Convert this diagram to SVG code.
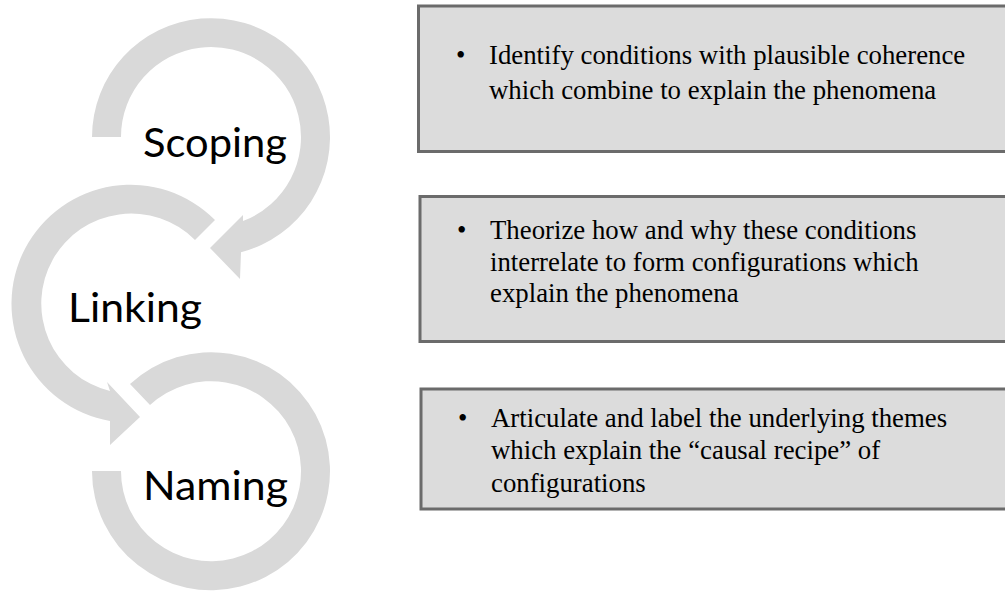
<svg xmlns="http://www.w3.org/2000/svg" width="1005" height="594" viewBox="0 0 1005 594">
<style>
.ring{fill:#d9d9d9;stroke:none}
.lbl{font-family:Lato,"Open Sans","Liberation Sans",sans-serif;font-size:40px;fill:#000}
.box{fill:#dcdcdc;stroke:#6b6b6b;stroke-width:3}
.txt{font-family:"Liberation Serif","Times New Roman",serif;font-size:26.8px;fill:#000}
</style>
<rect width="1005" height="594" fill="#fff"/>
<g id="connectors">
<path id="arrow-scoping" class="ring" d="M92 137 A119 119 0 1 1 241 252.3 L240 279 L210 248 L243 215 L243 221.1 A90 90 0 1 0 121 137 Z"/>
<path id="arrow-linking" class="ring" d="M215 220 A119 119 0 1 0 110 421 L110 445 L140 417 L107 382 L110 391 A90 90 0 1 1 195 240 Z"/>
<path id="arrow-naming" class="ring" d="M130 384 A119 119 0 1 1 92 471 L121 471 A90 90 0 1 0 150 405 Z"/>
</g>
<g id="node-scoping"><text class="lbl" x="143" y="157" textLength="144" lengthAdjust="spacingAndGlyphs">Scoping</text></g>
<g id="node-linking"><text class="lbl" x="68" y="322" textLength="134" lengthAdjust="spacingAndGlyphs">Linking</text></g>
<g id="node-naming"><text class="lbl" x="143" y="500" textLength="145" lengthAdjust="spacingAndGlyphs">Naming</text></g>
<g id="box-1">
<rect class="box" x="418.5" y="6" width="600" height="145.5"/>
<text class="txt" x="456" y="64">•</text>
<text class="txt"><tspan x="489" y="64">Identify conditions with plausible coherence</tspan><tspan x="489" y="99">which combine to explain the phenomena</tspan></text>
</g>
<g id="box-2">
<rect class="box" x="420" y="196.5" width="600" height="145"/>
<text class="txt" x="457" y="239">•</text>
<text class="txt"><tspan x="490" y="239">Theorize how and why these conditions</tspan><tspan x="490" y="271">interrelate to form configurations which</tspan><tspan x="490" y="302">explain the phenomena</tspan></text>
</g>
<g id="box-3">
<rect class="box" x="421" y="389" width="600" height="120"/>
<text class="txt" x="458" y="427">•</text>
<text class="txt"><tspan x="491" y="427">Articulate and label the underlying themes</tspan><tspan x="491" y="459">which explain the “causal recipe” of</tspan><tspan x="491" y="492">configurations</tspan></text>
</g>
</svg>
